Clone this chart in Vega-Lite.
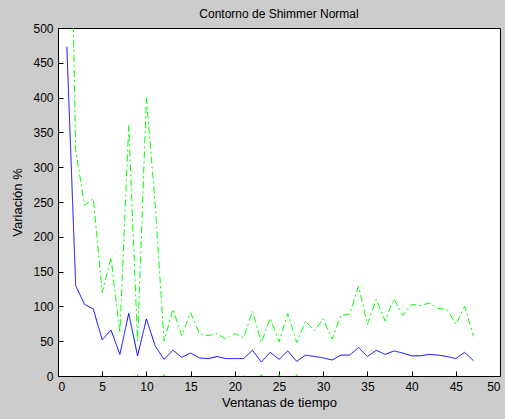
{
  "$schema": "https://vega.github.io/schema/vega-lite/v6.json",
  "width": 442,
  "height": 348,
  "autosize": {"type": "none"},
  "padding": {"left": 58, "top": 28, "right": 5, "bottom": 43},
  "background": "#cccccc",
  "title": {"text": "Contorno de Shimmer Normal", "fontSize": 12, "fontWeight": "normal", "font": "Liberation Sans", "color": "#000000", "offset": 1},
  "config": {
    "view": {"fill": "#ffffff", "stroke": "#000000", "strokeWidth": 1},
    "axis": {
      "domainColor": "#000000", "tickColor": "#000000", "labelColor": "#000000", "titleColor": "#000000",
      "labelFont": "Liberation Sans", "titleFont": "Liberation Sans", "labelFontSize": 12, "titleFontSize": 13,
      "titleFontWeight": "normal", "grid": false, "tickSize": -5, "labelPadding": 10
    }
  },
  "data": {"values": [
    {"x":1,"serie":"media","v":473},{"x":2,"serie":"media","v":130},{"x":3,"serie":"media","v":103},{"x":4,"serie":"media","v":96},{"x":5,"serie":"media","v":52},{"x":6,"serie":"media","v":66},{"x":7,"serie":"media","v":31},{"x":8,"serie":"media","v":90},{"x":9,"serie":"media","v":29},{"x":10,"serie":"media","v":82},{"x":11,"serie":"media","v":43},{"x":12,"serie":"media","v":24},{"x":13,"serie":"media","v":37},{"x":14,"serie":"media","v":27},{"x":15,"serie":"media","v":33},{"x":16,"serie":"media","v":26},{"x":17,"serie":"media","v":25},{"x":18,"serie":"media","v":28},{"x":19,"serie":"media","v":25},{"x":20,"serie":"media","v":25},{"x":21,"serie":"media","v":25},{"x":22,"serie":"media","v":37},{"x":23,"serie":"media","v":20},{"x":24,"serie":"media","v":34},{"x":25,"serie":"media","v":24},{"x":26,"serie":"media","v":36},{"x":27,"serie":"media","v":21},{"x":28,"serie":"media","v":30},{"x":29,"serie":"media","v":28},{"x":30,"serie":"media","v":26},{"x":31,"serie":"media","v":23},{"x":32,"serie":"media","v":30},{"x":33,"serie":"media","v":30},{"x":34,"serie":"media","v":41},{"x":35,"serie":"media","v":28},{"x":36,"serie":"media","v":37},{"x":37,"serie":"media","v":31},{"x":38,"serie":"media","v":36},{"x":39,"serie":"media","v":33},{"x":40,"serie":"media","v":29},{"x":41,"serie":"media","v":29},{"x":42,"serie":"media","v":31},{"x":43,"serie":"media","v":30},{"x":44,"serie":"media","v":28},{"x":45,"serie":"media","v":25},{"x":46,"serie":"media","v":34},{"x":47,"serie":"media","v":22},
    {"x":1,"serie":"sup","v":1000},{"x":2,"serie":"sup","v":325},{"x":3,"serie":"sup","v":245},{"x":4,"serie":"sup","v":255},{"x":5,"serie":"sup","v":120},{"x":6,"serie":"sup","v":170},{"x":7,"serie":"sup","v":62},{"x":8,"serie":"sup","v":360},{"x":9,"serie":"sup","v":50},{"x":10,"serie":"sup","v":400},{"x":11,"serie":"sup","v":245},{"x":12,"serie":"sup","v":50},{"x":13,"serie":"sup","v":96},{"x":14,"serie":"sup","v":58},{"x":15,"serie":"sup","v":91},{"x":16,"serie":"sup","v":61},{"x":17,"serie":"sup","v":58},{"x":18,"serie":"sup","v":61},{"x":19,"serie":"sup","v":53},{"x":20,"serie":"sup","v":61},{"x":21,"serie":"sup","v":55},{"x":22,"serie":"sup","v":93},{"x":23,"serie":"sup","v":48},{"x":24,"serie":"sup","v":83},{"x":25,"serie":"sup","v":49},{"x":26,"serie":"sup","v":90},{"x":27,"serie":"sup","v":48},{"x":28,"serie":"sup","v":79},{"x":29,"serie":"sup","v":65},{"x":30,"serie":"sup","v":82},{"x":31,"serie":"sup","v":53},{"x":32,"serie":"sup","v":87},{"x":33,"serie":"sup","v":89},{"x":34,"serie":"sup","v":129},{"x":35,"serie":"sup","v":74},{"x":36,"serie":"sup","v":110},{"x":37,"serie":"sup","v":79},{"x":38,"serie":"sup","v":111},{"x":39,"serie":"sup","v":87},{"x":40,"serie":"sup","v":103},{"x":41,"serie":"sup","v":101},{"x":42,"serie":"sup","v":105},{"x":43,"serie":"sup","v":97},{"x":44,"serie":"sup","v":96},{"x":45,"serie":"sup","v":74},{"x":46,"serie":"sup","v":100},{"x":47,"serie":"sup","v":57},
    {"x":1,"serie":"inf","v":-54},{"x":2,"serie":"inf","v":-65},{"x":3,"serie":"inf","v":-39},{"x":4,"serie":"inf","v":-63},{"x":5,"serie":"inf","v":-16},{"x":6,"serie":"inf","v":-38},{"x":7,"serie":"inf","v":-5},{"x":8,"serie":"inf","v":-180},{"x":9,"serie":"inf","v":2},{"x":10,"serie":"inf","v":-236},{"x":11,"serie":"inf","v":-159},{"x":12,"serie":"inf","v":2},{"x":13,"serie":"inf","v":-22},{"x":14,"serie":"inf","v":-4},{"x":15,"serie":"inf","v":-25},{"x":16,"serie":"inf","v":-9},{"x":17,"serie":"inf","v":-8},{"x":18,"serie":"inf","v":-5},{"x":19,"serie":"inf","v":-3},{"x":20,"serie":"inf","v":-11},{"x":21,"serie":"inf","v":2},{"x":22,"serie":"inf","v":-19},{"x":23,"serie":"inf","v":2},{"x":24,"serie":"inf","v":-15},{"x":25,"serie":"inf","v":2},{"x":26,"serie":"inf","v":-18},{"x":27,"serie":"inf","v":2},{"x":28,"serie":"inf","v":-19},{"x":29,"serie":"inf","v":-9},{"x":30,"serie":"inf","v":-30},{"x":31,"serie":"inf","v":-7},{"x":32,"serie":"inf","v":-27},{"x":33,"serie":"inf","v":-31},{"x":34,"serie":"inf","v":-47},{"x":35,"serie":"inf","v":-18},{"x":36,"serie":"inf","v":-36},{"x":37,"serie":"inf","v":-17},{"x":38,"serie":"inf","v":-39},{"x":39,"serie":"inf","v":-21},{"x":40,"serie":"inf","v":-45},{"x":41,"serie":"inf","v":-43},{"x":42,"serie":"inf","v":-43},{"x":43,"serie":"inf","v":-37},{"x":44,"serie":"inf","v":-40},{"x":45,"serie":"inf","v":-24},{"x":46,"serie":"inf","v":-32},{"x":47,"serie":"inf","v":-13}
  ]},
  "mark": {"type": "line", "clip": true, "strokeWidth": 1},
  "encoding": {
    "x": {"field": "x", "type": "quantitative", "scale": {"domain": [0, 50], "nice": false}, "axis": {"values": [0,5,10,15,20,25,30,35,40,45,50], "title": "Ventanas de tiempo", "titlePadding": 4}},
    "y": {"field": "v", "type": "quantitative", "scale": {"domain": [0, 500], "nice": false}, "axis": {"values": [0,50,100,150,200,250,300,350,400,450,500], "title": "Variación %", "titlePadding": 8}},
    "color": {"field": "serie", "type": "nominal", "scale": {"domain": ["media", "sup", "inf"], "range": ["#0000ff", "#00ff00", "#00ff00"]}, "legend": null},
    "strokeDash": {"field": "serie", "type": "nominal", "scale": {"domain": ["media", "sup", "inf"], "range": [[1, 0], [7, 3, 2, 3], [7, 3, 2, 3]]}, "legend": null},
    "order": {"field": "x", "type": "quantitative"}
  }
}
